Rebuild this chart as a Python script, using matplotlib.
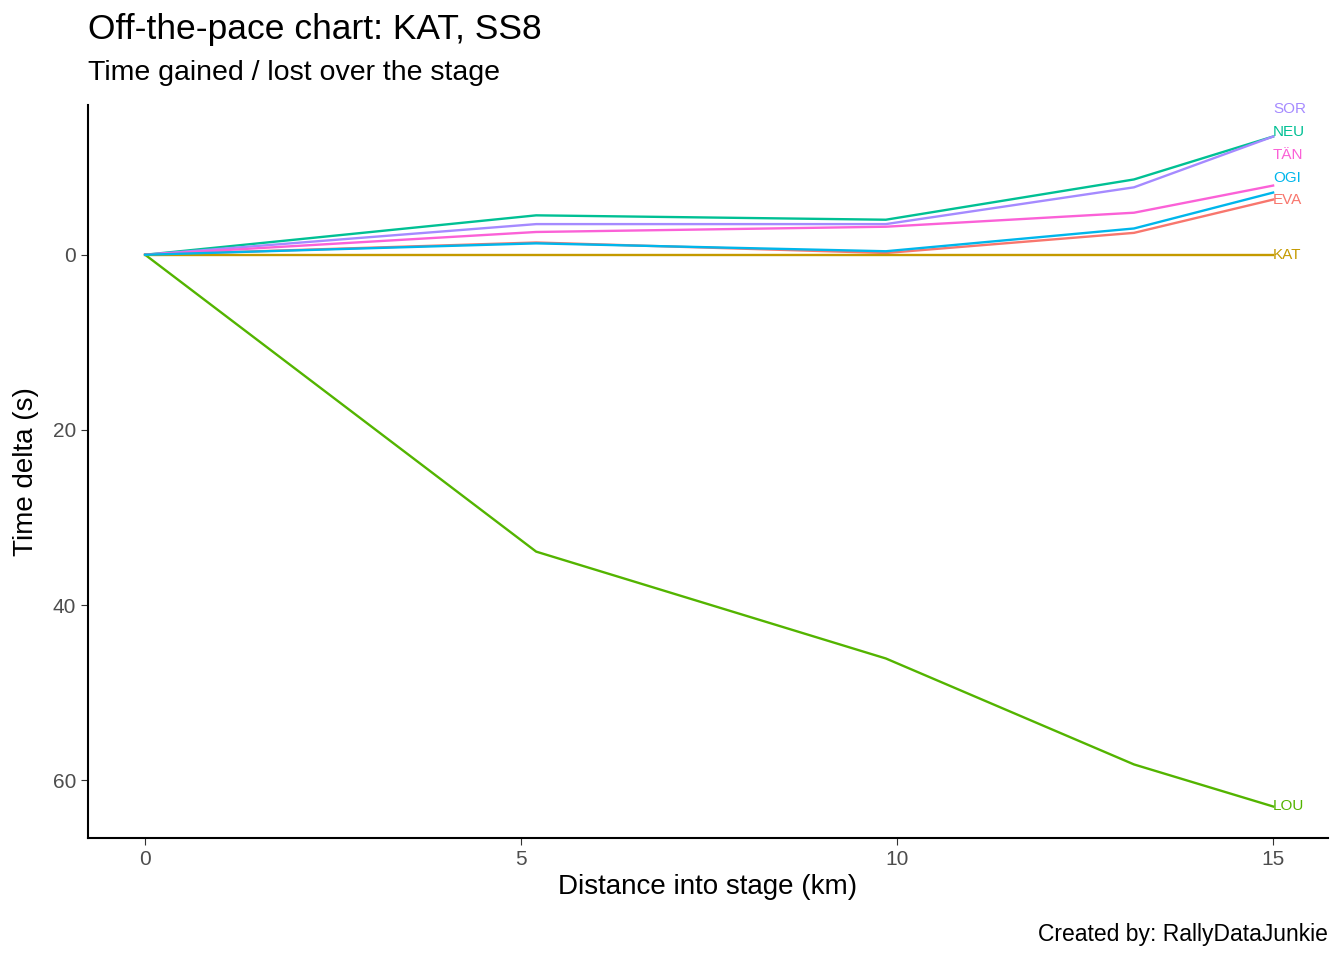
import matplotlib.pyplot as plt

dist = [0, 5.2, 9.85, 13.15, 15.0]
drivers = ['EVA', 'KAT', 'LOU', 'NEU', 'OGI', 'SOR', 'TÄN']
deltas = {
    'EVA': [0, -1.4, -0.2, -2.5, -6.3],
    'KAT': [0, 0, 0, 0, 0],
    'LOU': [0, 33.9, 46.1, 58.2, 63.0],
    'NEU': [0, -4.5, -4.0, -8.6, -13.5],
    'SOR': [0, -3.5, -3.5, -7.7, -13.5],
    'TÄN': [0, -2.6, -3.2, -4.8, -7.9],
    'OGI': [0, -1.3, -0.4, -3.0, -7.1],
}
label_y = {'SOR': -16.6, 'NEU': -14.0, 'TÄN': -11.4, 'OGI': -8.8, 'EVA': -6.2, 'KAT': 0, 'LOU': 63.0}
colors = {'EVA': '#F8766D', 'KAT': '#C49A00', 'LOU': '#53B400', 'NEU': '#00C094',
          'OGI': '#00B6EB', 'SOR': '#A58AFF', 'TÄN': '#FB61D7'}
order = ['LOU', 'NEU', 'SOR', 'EVA', 'TÄN', 'KAT', 'OGI']

plt.rcParams['font.family'] = ['Liberation Sans', 'DejaVu Sans']
fig = plt.figure(figsize=(13.44, 9.6), dpi=100)
ax = fig.add_axes([88/1344, 1-838/960, 1240/1344, 733/960])
for d in order:
    ax.plot(dist, deltas[d], color=colors[d], lw=1.7)
for d in drivers:
    ax.text(dist[-1], label_y[d], d, color=colors[d], fontsize=11, va='center', ha='left')
ax.set_xlim(-0.76, 15.73)
ax.set_ylim(66.6, -17.1)
ax.set_xticks([0, 5, 10, 15])
ax.set_yticks([0, 20, 40, 60])
for s in ['top', 'right']:
    ax.spines[s].set_visible(False)
for s in ['left', 'bottom']:
    ax.spines[s].set_linewidth(1.5)
ax.tick_params(labelsize=15, labelcolor='#4d4d4d', color='#333333', length=5)
ax.set_xlabel('Distance into stage (km)', fontsize=20, labelpad=4)
ax.set_ylabel('Time delta (s)', fontsize=20, labelpad=10)
fig.text(88/1344, 1-30/960, 'Off-the-pace chart: KAT, SS8', fontsize=25.5, va='center')
fig.text(88/1344, 1-73/960, 'Time gained / lost over the stage', fontsize=20.5, va='center')
fig.text(1328/1344, 1-934/960, 'Created by: RallyDataJunkie', fontsize=16.5, ha='right', va='center')
fig.savefig('out.png', dpi=100)
